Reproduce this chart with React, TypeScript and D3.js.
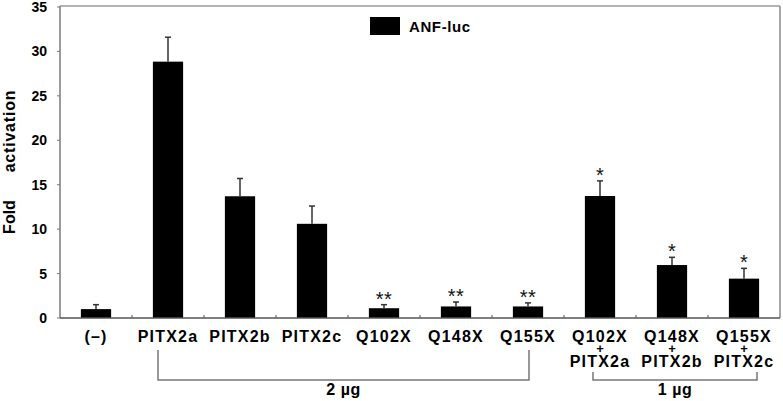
import React from "react";
import * as d3 from "d3";

const categories = ["(–)", "PITX2a", "PITX2b", "PITX2c", "Q102X", "Q148X", "Q155X", "Q102X+PITX2a", "Q148X+PITX2b", "Q155X+PITX2c"];
const labelLines = [["(–)"], ["PITX2a"], ["PITX2b"], ["PITX2c"], ["Q102X"], ["Q148X"], ["Q155X"], ["Q102X", "+", "PITX2a"], ["Q148X", "+", "PITX2b"], ["Q155X", "+", "PITX2c"]];
const values = [1.0, 28.85, 13.7, 10.6, 1.1, 1.3, 1.3, 13.73, 5.96, 4.43];
const errors = [0.5, 2.75, 2.0, 2.0, 0.4, 0.5, 0.4, 1.7, 0.87, 1.16];
const marks = ["", "", "", "", "**", "**", "**", "*", "*", "*"];
const yTicks = [0, 5, 10, 15, 20, 25, 30, 35];
const seriesName = "ANF-luc";
const groups = [
  { label: "2 µg", from: "PITX2a", to: "Q155X" },
  { label: "1 µg", from: "Q102X+PITX2a", to: "Q155X+PITX2c" },
];

const W = 783, H = 401;
const left = 60, right = 780, top = 6, bottom = 318;
const font = "Arial, 'Liberation Sans', sans-serif";

export default function App() {
  const x = d3.scaleBand().domain(categories).range([left, right]).padding(0);
  const y = d3.scaleLinear().domain([0, 35]).range([bottom, 7]);
  const bw = x.bandwidth();
  const barW = bw * 0.42;
  const axisCol = "#7a7a7a";

  return (
    <svg width={W} height={H} style={{ position: "absolute", left: 0, top: 0, background: "#fff" }} fontFamily={font}>
      <rect x={0} y={0} width={W} height={H} fill="#fff" />
      {/* frame */}
      <line x1={left} y1={top} x2={right} y2={top} stroke="#9a9a9a" strokeWidth={1.5} />
      <line x1={right} y1={top} x2={right} y2={bottom} stroke="#8a8a8a" strokeWidth={1.5} />
      {/* y axis */}
      <line x1={left} y1={top} x2={left} y2={bottom} stroke={axisCol} strokeWidth={1.5} />
      {yTicks.map((t) => (
        <g key={t}>
          <line x1={left - 3} x2={left} y1={y(t)} y2={y(t)} stroke={axisCol} strokeWidth={1} />
          <text x={47} y={y(t) + 5} textAnchor="end" fontSize={14} fontWeight="bold">{t}</text>
        </g>
      ))}
      {/* y label */}
      <text transform={`translate(15,217) rotate(-90)`} textAnchor="middle" fontSize={16} fontWeight="bold">Fold</text>
      <text transform={`translate(15,131) rotate(-90)`} textAnchor="middle" fontSize={16} fontWeight="bold" letterSpacing={0.8}>activation</text>
      {/* bars */}
      {categories.map((c, i) => {
        const cx = (x(c) as number) + bw / 2;
        const v = values[i];
        const eTop = y(v + errors[i]);
        return (
          <g key={c}>
            <rect x={cx - barW / 2} y={y(v)} width={barW} height={y(0) - y(v)} fill="#000" />
            <line x1={cx} x2={cx} y1={y(v)} y2={eTop} stroke="#333" strokeWidth={1.5} />
            <line x1={cx - 3} x2={cx + 3} y1={eTop} y2={eTop} stroke="#333" strokeWidth={1.5} />
            {marks[i] && (
              <text x={cx} y={eTop + 1} textAnchor="middle" fontSize={20} fill="#111" letterSpacing={marks[i].length > 1 ? 0.5 : 0}>{marks[i]}</text>
            )}
          </g>
        );
      })}
      {/* x axis */}
      <line x1={left} x2={right} y1={bottom} y2={bottom} stroke="#555" strokeWidth={1.5} />
      {categories.slice(1).map((c) => (
        <line key={c} x1={x(c) as number} x2={x(c) as number} y1={bottom} y2={bottom - 3} stroke="#555" strokeWidth={1} />
      ))}
      {/* x labels */}
      {categories.map((c, i) => {
        const cx = (x(c) as number) + bw / 2;
        const lines = labelLines[i];
        const ys = [342, 353, 367];
        return lines.map((l, j) => (
          <text key={c + j} x={cx} y={ys[j]} textAnchor="middle" fontSize={l === "+" ? 13 : 16} fontWeight="bold" letterSpacing={l === "+" ? 0 : 1.2}>{l}</text>
        ));
      })}
      {/* group brackets */}
      {groups.map((g, gi) => {
        const xa = (x(g.from) as number) + bw / 2 + (gi === 0 ? -10 : -7);
        const xb = (x(g.to) as number) + bw / 2 + (gi === 0 ? 1 : 13);
        const y0 = gi === 0 ? 350 : 372;
        const y1 = 380;
        return (
          <g key={g.label}>
            <path d={`M${xa},${y0}V${y1}H${xb}V${y0}`} fill="none" stroke="#777" strokeWidth={1.5} />
            <text x={(xa + xb) / 2} y={395} textAnchor="middle" fontSize={16} fontWeight="bold" letterSpacing={0.5}>{g.label}</text>
          </g>
        );
      })}
      {/* legend */}
      <rect x={370} y={17} width={30} height={18} fill="#000" />
      <text x={409} y={32} fontSize={15} fontWeight="bold" letterSpacing={0.6}>{seriesName}</text>
    </svg>
  );
}
